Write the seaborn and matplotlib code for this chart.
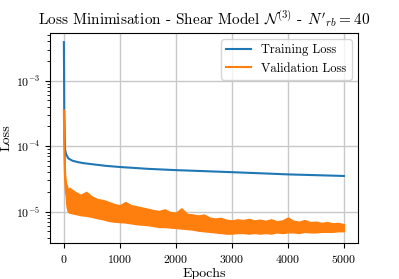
import numpy as np
import pandas as pd
import matplotlib
matplotlib.use("Agg")
import matplotlib.pyplot as plt
import seaborn as sns

# training loss
train_epochs = [0, 3, 6, 10, 20, 40, 80, 150, 250, 350, 500, 750, 1000, 1500,
                2000, 2500, 3000, 3500, 4000, 4500, 5000]
train_loss = [3.9e-3, 1.5e-3, 4e-4, 1.4e-4, 9e-5, 7.5e-5, 6.5e-5, 6.0e-5, 5.7e-5,
              5.5e-5, 5.3e-5, 5.0e-5, 4.8e-5, 4.5e-5, 4.3e-5, 4.15e-5, 4.0e-5,
              3.85e-5, 3.7e-5, 3.6e-5, 3.5e-5]

# validation loss: upper / lower edge of the noisy band
val_epochs = [0, 5, 10, 20, 30, 40, 50, 70, 100, 200, 300, 400, 500, 600, 700, 800,
              900, 1000, 1100, 1200, 1300, 1400, 1500, 1600, 1700, 1800, 1900, 2000,
              2100, 2200, 2300, 2400, 2500, 2600, 2700, 2800, 2900, 3000, 3100, 3200,
              3300, 3400, 3500, 3600, 3700, 3800, 3900, 4000, 4100, 4200, 4300, 4400,
              4500, 4600, 4700, 4800, 4900, 5000]
val_high = [3.5e-4, 1.5e-4, 7e-5, 3.8e-5, 2.8e-5, 2.4e-5, 2.6e-5, 2.2e-5, 2.3e-5,
            2.0e-5, 1.8e-5, 2.0e-5, 1.7e-5, 1.55e-5, 1.5e-5, 1.4e-5, 1.3e-5, 1.25e-5,
            1.4e-5, 1.25e-5, 1.2e-5, 1.15e-5, 1.1e-5, 1.05e-5, 1.02e-5, 1.08e-5,
            9.8e-6, 9.6e-6, 1.12e-5, 9.2e-6, 9.0e-6, 8.7e-6, 9.0e-6, 8.1e-6, 7.8e-6,
            8.0e-6, 7.5e-6, 7.3e-6, 7.6e-6, 7.4e-6, 7.7e-6, 7.3e-6, 7.5e-6, 7.2e-6,
            7.6e-6, 7.1e-6, 7.3e-6, 8.1e-6, 7.2e-6, 7.0e-6, 7.4e-6, 6.9e-6, 7.0e-6,
            6.7e-6, 6.9e-6, 6.6e-6, 6.7e-6, 6.4e-6]
val_low = [3.5e-4, 1.5e-4, 6e-5, 3.0e-5, 1.9e-5, 1.4e-5, 1.15e-5, 1.0e-5, 9.6e-6,
           9.2e-6, 8.8e-6, 8.6e-6, 8.3e-6, 7.9e-6, 7.6e-6, 7.2e-6, 7.0e-6, 6.9e-6,
           6.8e-6, 6.6e-6, 6.4e-6, 6.3e-6, 6.2e-6, 6.0e-6, 5.8e-6, 5.8e-6, 5.7e-6,
           5.6e-6, 5.5e-6, 5.4e-6, 5.3e-6, 5.1e-6, 5.0e-6, 4.9e-6, 4.8e-6, 4.7e-6,
           4.6e-6, 4.6e-6, 4.7e-6, 4.7e-6, 4.6e-6, 4.7e-6, 4.6e-6, 4.7e-6, 4.6e-6,
           4.8e-6, 4.7e-6, 4.8e-6, 4.8e-6, 4.7e-6, 4.9e-6, 4.8e-6, 4.8e-6, 4.9e-6,
           4.9e-6, 4.9e-6, 5.0e-6, 5.0e-6]

plt.rcParams['font.family'] = 'serif'
plt.rcParams['font.serif'] = ['cmr10']
plt.rcParams['mathtext.fontset'] = 'cm'
plt.rcParams['axes.formatter.use_mathtext'] = True
plt.rcParams['font.size'] = 9

train = pd.DataFrame({'Epochs': train_epochs, 'Loss': train_loss})
val = pd.DataFrame({'Epochs': val_epochs * 2, 'Loss': val_high + val_low})

fig, ax = plt.subplots(figsize=(3.99, 2.79), dpi=100)
fig.subplots_adjust(left=0.125, right=0.897, bottom=0.129, top=0.882)

sns.lineplot(data=train, x='Epochs', y='Loss', ax=ax, color='#1f77b4',
             linewidth=1.5, label='Training Loss')
sns.lineplot(data=val, x='Epochs', y='Loss', ax=ax, color='#ff7f0e',
             linewidth=1.5, label='Validation Loss', errorbar=('pi', 100),
             err_kws={'alpha': 1, 'linewidth': 1.0, 'edgecolor': '#ff7f0e'})

ax.set_yscale('log')
ax.set_ylim(3.3e-6, 5.4e-3)
ax.set_xlim(-250, 5250)
ax.set_xticks([0, 1000, 2000, 3000, 4000, 5000])
ax.tick_params(labelsize=8.5)
ax.grid(True, which='major', color='#c8c8c8', linewidth=1.0)
ax.set_axisbelow(True)
ax.set_xlabel('Epochs', fontsize=10, labelpad=2)
ax.set_ylabel('Loss', fontsize=10, labelpad=2)
ax.set_title(r"Loss Minimisation - Shear Model $\mathcal{N}^{(3)}$ - $N'_{rb} = 40$",
             fontsize=11)
ax.legend(loc='upper right', fontsize=9)

fig.savefig('out.png', dpi=100)
